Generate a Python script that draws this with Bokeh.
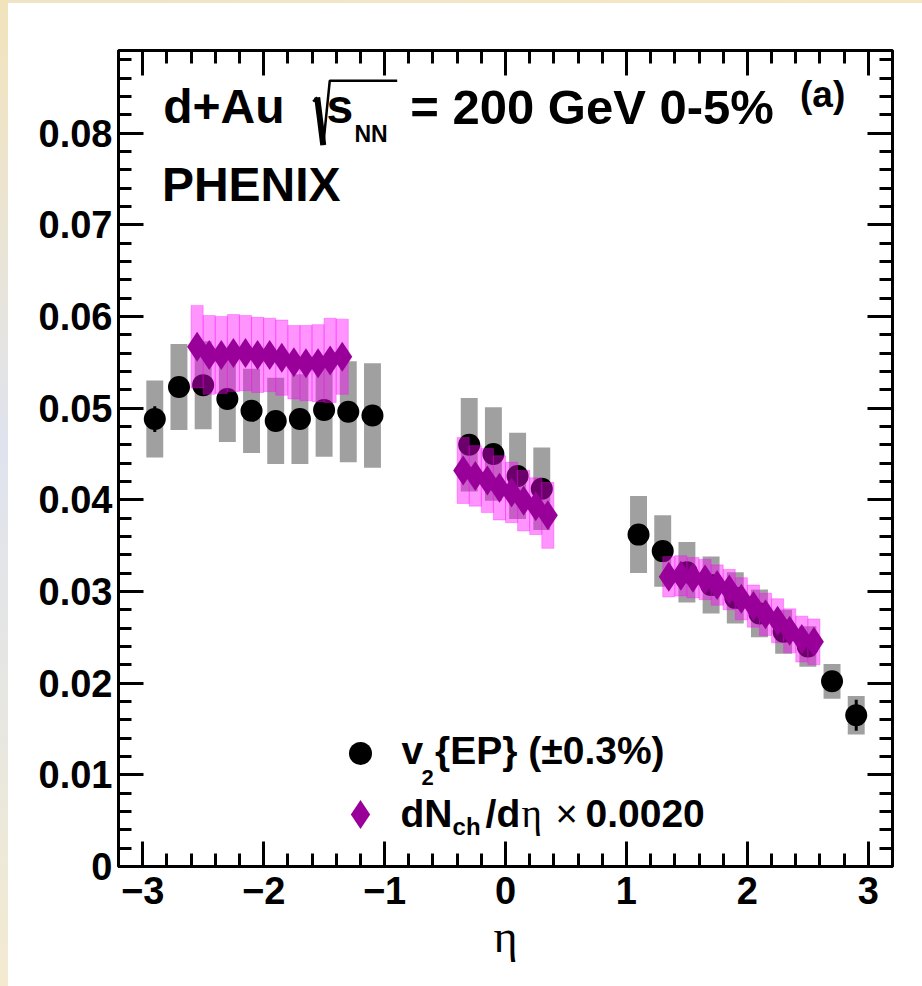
import numpy as np
from bokeh.plotting import figure
from bokeh.models import FixedTicker, LinearAxis, Range1d, Div
from bokeh.layouts import row, column
from bokeh.core.properties import value
from bokeh.embed import file_html
from bokeh.resources import INLINE

# ---- v2{EP} in d+Au 0-5% (PHENIX) ----
eta_v2 = np.array([-2.9, -2.7, -2.5, -2.3, -2.1, -1.9, -1.7, -1.5, -1.3, -1.1,
                   -0.3, -0.1, 0.1, 0.3,
                   1.1, 1.3, 1.5, 1.7, 1.9, 2.1, 2.3, 2.5, 2.7, 2.9])
v2 = np.array([0.0488, 0.0523, 0.0525, 0.0510, 0.0497, 0.0486, 0.0488, 0.0498, 0.0496, 0.0492,
               0.0460, 0.0450, 0.0426, 0.0412,
               0.0362, 0.0344, 0.0321, 0.0307, 0.0293, 0.0276, 0.0256, 0.0240, 0.0202, 0.0165])
v2_sys = np.array([0.0042, 0.0047, 0.0048, 0.0047, 0.0046, 0.0047, 0.0049, 0.0051, 0.0055, 0.0057,
                   0.0051, 0.0051, 0.0047, 0.0045,
                   0.0042, 0.0039, 0.0033, 0.0031, 0.0028, 0.0026, 0.0024, 0.0022, 0.0019, 0.0021])
v2_stat = np.array([0.0014, 0.0011, 0.0010, 0.0010, 0.0010, 0.0010, 0.0010, 0.0010, 0.0011, 0.0011,
                    0.0008, 0.0008, 0.0008, 0.0008,
                    0.0008, 0.0008, 0.0007, 0.0007, 0.0007, 0.0007, 0.0008, 0.0009, 0.0011, 0.0017])

# ---- dNch/deta scaled by 0.0020 ----
eta_dn = np.array([-2.55, -2.45, -2.35, -2.25, -2.15, -2.05, -1.95, -1.85, -1.75, -1.65, -1.55, -1.45, -1.35,
                   -0.35, -0.25, -0.15, -0.05, 0.05, 0.15, 0.25, 0.35,
                   1.35, 1.45, 1.55, 1.65, 1.75, 1.85, 1.95, 2.05, 2.15, 2.25, 2.35, 2.45, 2.55])
dn = np.array([0.0567, 0.0558, 0.0558, 0.0560, 0.0560, 0.0558, 0.0558, 0.0555, 0.0550, 0.0549, 0.0549, 0.0552, 0.0556,
               0.0432, 0.0426, 0.0421, 0.0413, 0.0408, 0.0399, 0.0393, 0.0383,
               0.0316, 0.0317, 0.0315, 0.0313, 0.0307, 0.0302, 0.0292, 0.0284, 0.0275, 0.0268, 0.0257, 0.0248, 0.0245])
dn_sys = np.array([0.0045, 0.0043, 0.0042, 0.0042, 0.0041, 0.0041, 0.0040, 0.0041, 0.0040, 0.0041, 0.0042, 0.0046, 0.0041,
                   0.0036, 0.0033, 0.0035, 0.0035, 0.0033, 0.0033, 0.0031, 0.0036,
                   0.0022, 0.0022, 0.0022, 0.0022, 0.0022, 0.0022, 0.0023, 0.0023, 0.0023, 0.0024, 0.0024, 0.0025, 0.0025])

# ---- axes ----
x_ticks = [-3, -2, -1, 0, 1, 2, 3]
x_tick_labels = ["\u22123", "\u22122", "\u22121", "0", "1", "2", "3"]
x_minor = [round(-3.2 + 0.2 * i, 1) for i in range(33)]
y_ticks = [0.0, 0.01, 0.02, 0.03, 0.04, 0.05, 0.06, 0.07, 0.08]
y_tick_labels = ["0", "0.01", "0.02", "0.03", "0.04", "0.05", "0.06", "0.07", "0.08"]
y_minor = [round(0.002 * i, 3) for i in range(45)]

Y_MAX = 0.089
FRAME_H = 816  # frame height in px, used to lift text onto its baseline

GRAY = "#a0a0a0"
PINK = "#ff00ff"
PURPLE = "#990099"
SANS = "Liberation Sans"

p = figure(width=914, height=983, x_range=Range1d(-3.2, 3.2), y_range=Range1d(0, Y_MAX),
           output_backend="svg", toolbar_location=None,
           x_axis_location=None, y_axis_location=None,
           min_border_left=110, min_border_right=30, min_border_top=47, min_border_bottom=120,
           background_fill_color="white", border_fill_color="white")
p.outline_line_color = "black"
p.outline_line_width = 3
p.xgrid.visible = False
p.ygrid.visible = False


def styled_axis(ticks, minor, labels, show_labels):
    ax = LinearAxis(ticker=FixedTicker(ticks=ticks, minor_ticks=minor))
    ax.axis_line_color = None
    ax.major_tick_in = 25
    ax.major_tick_out = 0
    ax.minor_tick_in = 13
    ax.minor_tick_out = 0
    ax.major_tick_line_width = 3
    ax.minor_tick_line_width = 3
    ax.major_tick_line_color = "black"
    ax.minor_tick_line_color = "black"
    if show_labels:
        ax.major_label_overrides = dict(zip(ticks, labels))
        ax.major_label_text_font = SANS
        ax.major_label_text_font_style = "bold"
        ax.major_label_text_font_size = "38px"
        ax.major_label_text_color = "black"
    else:
        # mirrored tick marks only
        ax.major_label_text_font_size = "1px"
        ax.major_label_text_color = None
        ax.major_label_standoff = 0
    return ax


xb = styled_axis(x_ticks, x_minor, x_tick_labels, True)
xb.major_label_standoff = 10
xb.axis_label = "\u03b7"
xb.axis_label_text_font = "Liberation Serif"
xb.axis_label_text_font_style = "normal"
xb.axis_label_text_font_size = "46px"
xb.axis_label_text_color = "black"
xb.axis_label_standoff = 4
p.add_layout(xb, "below")
p.add_layout(styled_axis(x_ticks, x_minor, x_tick_labels, False), "above")

yl = styled_axis(y_ticks, y_minor, y_tick_labels, True)
yl.major_label_standoff = 6
p.add_layout(yl, "left")
p.add_layout(styled_axis(y_ticks, y_minor, y_tick_labels, False), "right")

# systematic boxes of v2, statistical bars, points
p.quad(left=eta_v2 - 0.07, right=eta_v2 + 0.07, bottom=v2 - v2_sys, top=v2 + v2_sys,
       fill_color=GRAY, line_color=None)
p.segment(x0=eta_v2, y0=v2 - v2_stat, x1=eta_v2, y1=v2 + v2_stat, line_color="black", line_width=3)
p.scatter(eta_v2, v2, marker="circle", size=22, fill_color="black", line_color=None)

# scaled multiplicity with its systematic band
p.quad(left=eta_dn - 0.05, right=eta_dn + 0.05, bottom=dn - dn_sys, top=dn + dn_sys,
       fill_color=PINK, fill_alpha=0.42, line_color=PINK, line_alpha=0.3, line_width=1)
p.scatter(eta_dn, dn, marker="diamond", size=30, fill_color=PURPLE, line_color=None)


def put(x, y, txt, size, bold=True, font=SANS):
    # y is the baseline; the glyph anchor sits ~0.39 em below it
    y_anchor = y + 0.39 * size * Y_MAX / FRAME_H
    p.text(x=[x], y=[y_anchor], text=[txt], text_font=value(font), text_font_size=f"{size}px",
           text_font_style="bold" if bold else "normal", text_color="black",
           text_baseline="alphabetic", text_align="left")


# header
put(-2.83, 0.0808, "d+Au", 48)
p.line(x=[-1.590, -1.557], y=[0.08342, 0.08390], line_color="black", line_width=2.5)
p.line(x=[-1.557, -1.507], y=[0.08390, 0.07869], line_color="black", line_width=6)
p.line(x=[-1.507, -1.453, -0.8955], y=[0.07869, 0.08571, 0.08571], line_color="black", line_width=2.5)
put(-1.480, 0.0808, "s", 48)
put(-1.249, 0.07888, "NN", 23)
put(-0.788, 0.0808, "= 200 GeV 0-5%", 49)
put(2.435, 0.08267, "(a)", 37)
put(-2.841, 0.07236, "PHENIX", 48)

# legend
p.scatter([-1.199], [0.01233], marker="circle", size=23, fill_color="black", line_color=None)
p.scatter([-1.199], [0.005675], marker="diamond", size=29, fill_color=PURPLE, line_color=None)
put(-0.860, 0.01102, "v", 39)
put(-0.695, 0.008764, "2", 22)
put(-0.582, 0.01102, "{EP} (\u00b10.3%)", 39)
put(-0.868, 0.004115, "dN", 39)
put(-0.438, 0.003383, "ch", 24)
put(-0.165, 0.004115, "/d", 39)
put(0.132, 0.004115, "\u03b7", 39, bold=False, font="Liberation Serif")
put(0.413, 0.004115, "\u00d7", 38, bold=False)
put(0.6615, 0.004115, "0.0020", 39)

# page frame strips
left_strip = Div(width=8, height=986, margin=0,
                 styles={"background": "linear-gradient(to bottom, #f1e3bb 0%, #ebe4d2 22%, #dfe3ee 45%, #e6e6e2 70%, #f3ead0 100%)"})
top_strip = Div(width=914, height=3, margin=0,
                styles={"background": "linear-gradient(to right, #efe4c6, #f4e8c4)"})
p.margin = 0
layout = row(left_strip, column(top_strip, p, spacing=0, margin=0), spacing=0, margin=0)

open("out.html", "w").write(file_html(layout, INLINE))
